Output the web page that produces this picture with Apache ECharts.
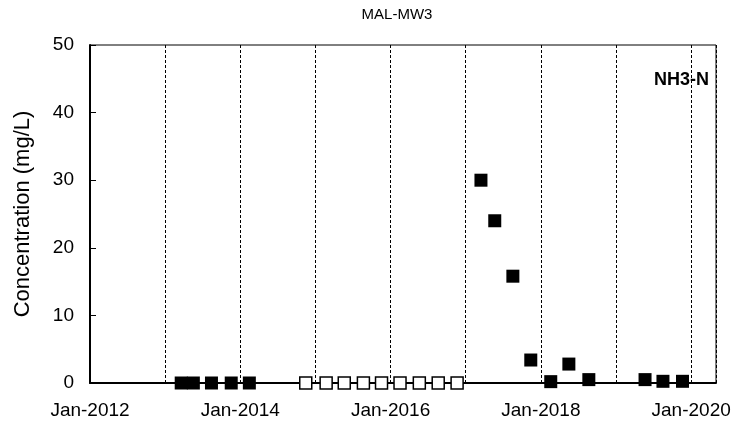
<!DOCTYPE html>
<html>
<head>
<meta charset="utf-8">
<script src="https://cdn.jsdelivr.net/npm/echarts@6/dist/echarts.min.js"></script>
<style>
html,body{margin:0;padding:0;background:#fff;}
#chart{width:743px;height:429px;}
</style>
</head>
<body>
<div id="chart"></div>
<script>
// ---- Data ----
var chartTitle = 'MAL-MW3';
var analyteLabel = 'NH3-N';
var yAxisName = 'Concentration (mg/L)';

// Detected results (filled squares)
var detectDates = ['2013-03-20','2013-05-18','2013-08-14','2013-11-18','2014-02-14',
                   '2017-03-16','2017-05-22','2017-08-18','2017-11-13','2018-02-18','2018-05-17','2018-08-22',
                   '2019-05-22','2019-08-17','2019-11-20'];
var detectValues = [0, 0, 0, 0, 0,
                    30, 24, 15.8, 3.4, 0.2, 2.8, 0.5,
                    0.5, 0.25, 0.25];

// Non-detect results (hollow squares)
var nondetectDates = ['2014-11-15','2015-02-22','2015-05-21','2015-08-22','2015-11-18',
                      '2016-02-16','2016-05-20','2016-08-20','2016-11-20'];
var nondetectValues = [0, 0, 0, 0, 0, 0, 0, 0, 0];

var xStartDate = '2012-01-01';
var xEndDate = '2020-05-01';
var yMin = 0, yMax = 50, yStep = 10;

// ---- helpers ----
function toYear(s) {
  var p = s.split('-').map(Number);
  var y = p[0];
  var start = Date.UTC(y, 0, 1), end = Date.UTC(y + 1, 0, 1);
  var t = Date.UTC(y, p[1] - 1, p[2]);
  return y + (t - start) / (end - start);
}
function pairs(dates, vals) {
  return dates.map(function (d, i) { return [toYear(d), vals[i]]; });
}

var font = 'Liberation Sans';
var chart = echarts.init(document.getElementById('chart'), null, {renderer: 'canvas'});
chart.setOption({
  animation: false,
  backgroundColor: '#fff',
  title: {
    text: chartTitle,
    left: 392, top: 2,
    textAlign: 'center',
    textStyle: {fontFamily: font, fontSize: 15, fontWeight: 'normal', color: '#000'}
  },
  graphic: [{
    type: 'text', right: 34, top: 71,
    style: {text: analyteLabel, fill: '#000', font: 'bold 18px "Liberation Sans"'}
  }],
  grid: {
    left: 90, right: 27, top: 45, bottom: 46,
    show: true, borderColor: '#000', borderWidth: 1, backgroundColor: 'transparent'
  },
  xAxis: {
    type: 'value',
    min: toYear(xStartDate), max: toYear(xEndDate), interval: 1,
    axisLine: {show: true, onZero: false, lineStyle: {color: '#000', width: 2}},
    axisTick: {show: false},
    axisLabel: {
      margin: 18, color: '#000', fontFamily: font, fontSize: 19,
      showMaxLabel: false,
      formatter: function (v) {
        var r = Math.round(v);
        if (Math.abs(v - r) < 1e-6 && r % 2 === 0) return 'Jan-' + r;
        return '';
      }
    },
    splitLine: {show: true, lineStyle: {color: '#000', width: 1, type: [3, 2]}}
  },
  yAxis: {
    type: 'value',
    min: yMin, max: yMax, interval: yStep,
    name: yAxisName, nameLocation: 'middle', nameGap: 56,
    nameTextStyle: {fontFamily: font, fontSize: 22, color: '#000'},
    axisLine: {show: true, lineStyle: {color: '#000', width: 2}},
    axisTick: {show: true, inside: true, length: 6, lineStyle: {color: '#000', width: 1}},
    axisLabel: {margin: 16, color: '#000', fontFamily: font, fontSize: 19},
    splitLine: {show: false}
  },
  series: [
    {
      type: 'scatter', name: 'Detect', clip: false, z: 5,
      symbol: 'rect', symbolSize: 13,
      itemStyle: {color: '#000', borderColor: '#000', borderWidth: 0, opacity: 1},
      data: pairs(detectDates, detectValues)
    },
    {
      type: 'scatter', name: 'Non-detect', clip: false, z: 5,
      symbol: 'rect', symbolSize: 12,
      itemStyle: {color: '#fff', borderColor: '#000', borderWidth: 1.5, opacity: 1},
      data: pairs(nondetectDates, nondetectValues)
    }
  ]
});
</script>
</body>
</html>
